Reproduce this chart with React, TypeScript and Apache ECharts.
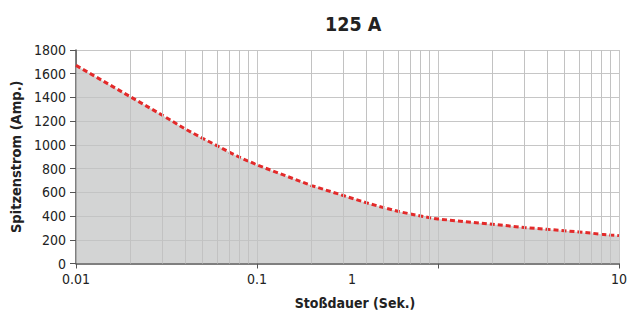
import React, { useEffect, useRef } from "react";
import * as echarts from "echarts";

const durations = [0.01, 0.02, 0.03, 0.04, 0.05, 0.06, 0.07, 0.08, 0.09, 0.1, 0.2, 0.3, 0.4, 0.5, 0.6, 0.7, 0.8, 0.9, 1, 2, 3, 4, 5, 6, 7, 8, 9, 10];
const currents = [1670, 1405, 1250, 1135, 1056, 994, 940, 896, 862, 831, 657, 573, 513, 471, 440, 418, 401, 386, 375, 331, 303, 288, 276, 266, 256, 247, 240, 235];
const minorGrid = [0.02, 0.03, 0.04, 0.05, 0.06, 0.07, 0.08, 0.09, 0.2, 0.3, 0.4, 0.5, 0.6, 0.7, 0.8, 0.9, 2, 3, 4, 5, 6, 7, 8, 9];
const yTicks = { min: 0, max: 1800, interval: 200 };
const title = "125 A";
const xName = "Stoßdauer (Sek.)";
const yName = "Spitzenstrom (Amp.)";

const FONT = "'DejaVu Sans Condensed', 'Liberation Sans Narrow', sans-serif";

export default function App() {
  const ref = useRef<HTMLDivElement>(null);
  useEffect(() => {
    document.body.style.margin = "0";
    const chart = echarts.init(ref.current!, null, { renderer: "svg" });
    const pts = durations.map((d, i) => [d, currents[i]]);
    chart.setOption({
      animation: false,
      title: {
        text: title,
        left: 320,
        top: 9,
        textStyle: { fontFamily: FONT, fontWeight: "bold", fontSize: 19.5, color: "#222" },
      },
      grid: { left: 76, right: 10, top: 50, bottom: 54.5, containLabel: false, outerBoundsMode: "none" },
      xAxis: {
        type: "log",
        logBase: 10,
        min: 0.01,
        max: 10,
        name: xName,
        nameLocation: "middle",
        nameGap: 32,
        nameTextStyle: { fontFamily: FONT, fontWeight: "bold", fontSize: 14, color: "#222", padding: [0, 0, 0, 15] },
        axisLine: { show: true, lineStyle: { color: "#555", width: 1.5 } },
        axisTick: { show: true, length: 5, lineStyle: { color: "#555" } },
        axisLabel: {
          fontFamily: FONT,
          fontSize: 14,
          color: "#222",
          margin: 8,
          formatter: (v: number) => {
            const s = String(+v.toPrecision(3));
            return v > 0.5 && v < 2 ? "{s|" + s + "}" : s;
          },
          rich: { s: { fontFamily: FONT, fontSize: 14, color: "#222", padding: [0, 172, 0, 0] } },
        },
        splitLine: { show: true, lineStyle: { color: "#c6c6c6", width: 1 } },
      },
      yAxis: {
        type: "value",
        min: yTicks.min,
        max: yTicks.max,
        interval: yTicks.interval,
        name: yName,
        nameLocation: "middle",
        nameGap: 46,
        nameTextStyle: { fontFamily: FONT, fontWeight: "bold", fontSize: 14.5, color: "#222" },
        axisLine: { show: true, lineStyle: { color: "#555", width: 1.5 } },
        axisTick: { show: true, length: 6, lineStyle: { color: "#555" } },
        axisLabel: { fontFamily: FONT, fontSize: 14, color: "#222", margin: 10, formatter: (v: number) => String(v) },
        splitLine: { show: true, lineStyle: { color: "#c6c6c6", width: 1 } },
      },
      series: [
        {
          type: "line",
          z: 1,
          data: pts,
          smooth: false,
          symbol: "none",
          lineStyle: { width: 0, opacity: 0 },
          areaStyle: { color: "#c2c3c3", opacity: 0.72 },
          silent: true,
          markLine: {
            silent: true,
            symbol: "none",
            label: { show: false },
            lineStyle: { color: "#c2c2c2", width: 1, type: "solid" },
            data: minorGrid.map((v) => ({ xAxis: v })),
          },
        },
        {
          type: "line",
          z: 3,
          data: pts,
          smooth: false,
          symbol: "none",
          lineStyle: { color: "#e32a2a", width: 3, type: [5, 3] },
          silent: true,
        },
      ],
    });
    return () => chart.dispose();
  }, []);
  return <div ref={ref} style={{ width: 629, height: 318 }} />;
}
